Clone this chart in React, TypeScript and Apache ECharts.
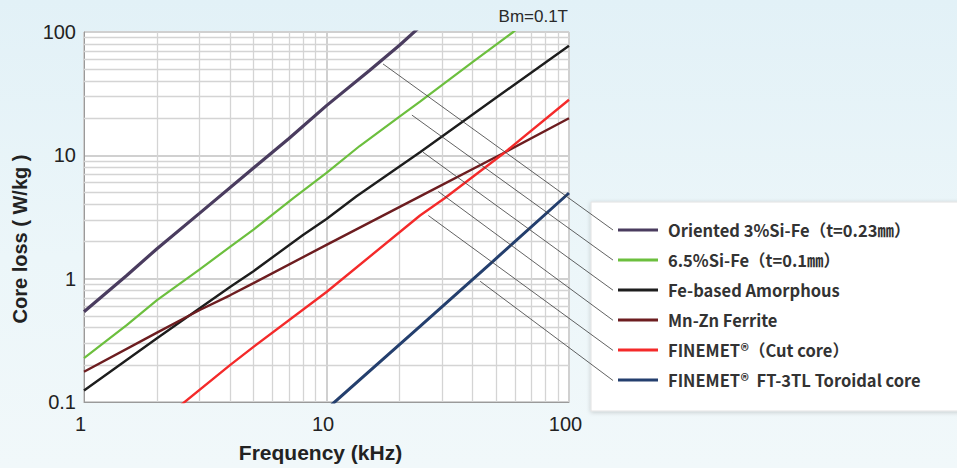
import React, { useEffect, useRef } from "react";
import * as echarts from "echarts";

// ---- data (frequency kHz, core loss W/kg) ----
const seriesNames = [
  "Oriented 3%Si-Fe（t=0.23㎜）",
  "6.5%Si-Fe（t=0.1㎜）",
  "Fe-based Amorphous",
  "Mn-Zn Ferrite",
  "FINEMET®（Cut core）",
  "FINEMET®  FT-3TL Toroidal core",
];
const seriesColors = ["#4a3c5f", "#6cbf3e", "#1d1d1d", "#6d1d20", "#f42a2a", "#243f6e"];
const seriesWidths = [3.2, 2.2, 2.4, 2.4, 2.4, 3];

const orientedSiFe = [[1, 0.54], [1.5, 1.06], [2, 1.75], [3, 3.4], [5, 7.9], [7, 13.7], [10, 25.3], [15, 48.5], [20, 78], [24, 108]];
const siFe65 = [[1, 0.227], [1.5, 0.42], [2, 0.67], [3, 1.19], [4, 1.81], [5, 2.5], [7.3, 4.5], [10, 7.2], [13.7, 11.9], [20, 20.6], [24.3, 27.3], [40, 57], [58.9, 100], [70, 130]];
const feAmorphous = [[1, 0.124], [2, 0.329], [3, 0.575], [4, 0.855], [5, 1.15], [8, 2.26], [10, 3.05], [13.3, 4.66], [24.3, 10.6], [50, 29.3], [100, 77.4]];
const mnZnFerrite = [[1, 0.176], [2, 0.365], [3, 0.557], [4, 0.733], [5, 0.92], [10, 1.88], [24.3, 4.65], [54.5, 10.6], [100, 20.0]];
const finemetCut = [[2.4, 0.088], [4, 0.199], [5, 0.28], [10, 0.78], [24.3, 3.25], [30.8, 4.51], [54.5, 10.6], [100, 28.2]];
const finemetToroidal = [[10.5, 0.095], [24.3, 0.41], [48.7, 1.39], [100, 4.95]];
const seriesData = [orientedSiFe, siFe65, feAmorphous, mnZnFerrite, finemetCut, finemetToroidal];

// points on the plot where the leader lines start
const leaderAnchors = [[17.1, 55.1], [22.5, 21.2], [25.0, 10.6], [28.9, 5.09], [26.3, 3.25], [43.0, 0.953]];

// minor grid values
const xMinor = [2, 3, 4, 5, 6, 7, 8, 9, 20, 30, 40, 50, 60, 70, 80, 90];
const yMinor = [0.2, 0.3, 0.4, 0.5, 0.6, 0.7, 0.8, 0.9, 2, 3, 4, 5, 6, 7, 8, 9, 20, 30, 40, 50, 60, 70, 80, 90];

const AXIS_FONT = '"Liberation Sans", Arial, sans-serif';
const LEGEND_FONT = '"Noto Sans CJK JP", "Noto Sans", sans-serif';

export default function App() {
  const ref = useRef<HTMLDivElement>(null);
  useEffect(() => {
    const chart = echarts.init(ref.current!, null, { renderer: "svg" });
    const legendTop = 221;
    const rowPitch = 30.1;
    const lines = seriesNames.map((name, i) => ({
      name,
      type: "line",
      data: seriesData[i],
      showSymbol: false,
      symbol: "none",
      silent: true,
      clip: true,
      z: 10 + (i === 4 ? 6 : i),
      lineStyle: { color: seriesColors[i], width: seriesWidths[i] },
      itemStyle: { color: seriesColors[i] },
    }));
    chart.setOption({
      animation: false,
      grid: {
        left: 84,
        top: 32,
        width: 485,
        height: 379,
        show: true,
        backgroundColor: "#ffffff",
        borderColor: "#a8a8a8",
        borderWidth: 1,
      },
      legend: {
        data: seriesNames,
        orient: "vertical",
        left: 618,
        top: legendTop,
        padding: 0,
        icon: "rect",
        itemWidth: 40,
        itemHeight: 3,
        itemGap: 12,
        selectedMode: false,
        textStyle: {
          fontSize: 16.5,
          fontWeight: "bold",
          color: "#333",
          fontFamily: LEGEND_FONT,
          lineHeight: 18,
          padding: [0, 0, 0, 5],
        },
      },
      xAxis: {
        type: "log",
        logBase: 10,
        min: 1,
        max: 100,
        name: "Frequency (kHz)",
        nameLocation: "middle",
        nameGap: 40,
        nameTextStyle: { fontSize: 21, fontWeight: "bold", color: "#222", fontFamily: AXIS_FONT, padding: [0, 12, 0, 0] },
        axisLine: { show: true, lineStyle: { color: "#9a9a9a", width: 1 } },
        axisTick: { show: false },
        axisLabel: { fontSize: 20, color: "#222", fontFamily: AXIS_FONT, margin: 12, padding: [0, 7, 0, 0] },
        splitLine: { show: true, lineStyle: { color: "#d0d0d0", width: 2 } },
      },
      yAxis: {
        type: "log",
        logBase: 10,
        min: 0.1,
        max: 100,
        axisLine: { show: true, lineStyle: { color: "#9a9a9a", width: 1 } },
        axisTick: { show: false },
        axisLabel: { fontSize: 20, color: "#222", fontFamily: AXIS_FONT, margin: 8 },
        splitLine: { show: true, lineStyle: { color: "#d0d0d0", width: 2 } },
      },
      series: [
        {
          name: "__grid",
          type: "line",
          data: [],
          silent: true,
          z: 1,
          markLine: {
            z: 1,
            silent: true,
            symbol: ["none", "none"],
            label: { show: false },
            lineStyle: { color: "#d4d4d4", width: 1.3, type: "solid" },
            emphasis: { disabled: true },
            data: [...xMinor.map((v) => ({ xAxis: v })), ...yMinor.map((v) => ({ yAxis: v }))],
          },
        },
        ...lines,
      ],
    });

    const leaders = leaderAnchors.map((p, i) => {
      const pt = chart.convertToPixel({ gridIndex: 0 }, p) as number[];
      return {
        type: "line",
        id: "leader" + i,
        z: 20,
        silent: true,
        shape: { x1: pt[0], y1: pt[1], x2: 613, y2: legendTop + 9 + rowPitch * i },
        style: { stroke: "#3a3a3a", lineWidth: 0.8 },
      };
    });

    chart.setOption({
      graphic: [
        {
          type: "rect",
          id: "legendBox",
          z: 0,
          silent: true,
          shape: { x: 591, y: 202, width: 400, height: 209 },
          style: { fill: "#ffffff", stroke: "#e2e2e2", lineWidth: 1, shadowBlur: 4, shadowColor: "rgba(0,0,0,0.18)", shadowOffsetY: 1 },
        },
        {
          type: "text",
          id: "bm",
          x: 568,
          y: 16,
          silent: true,
          style: { text: "Bm=0.1T", font: '17px "Liberation Sans", Arial, sans-serif', fill: "#2a2a2a", align: "right", verticalAlign: "middle" },
        },
        {
          type: "text",
          id: "ytitle",
          x: 20,
          y: 239,
          rotation: Math.PI / 2,
          silent: true,
          style: { text: "Core loss ( W/kg )", font: 'bold 20px "Liberation Sans", Arial, sans-serif', fill: "#222", align: "center", verticalAlign: "middle" },
        },
        ...leaders,
      ],
    });
    return () => chart.dispose();
  }, []);
  return (
    <div
      style={{
        position: "fixed",
        left: 0,
        top: 0,
        width: 957,
        height: 468,
        background: "linear-gradient(180deg, #e2f1f7 0%, #ecf6f9 55%, #f1f8fa 100%)",
      }}
    >
      <div ref={ref} style={{ width: 957, height: 468 }} />
    </div>
  );
}
